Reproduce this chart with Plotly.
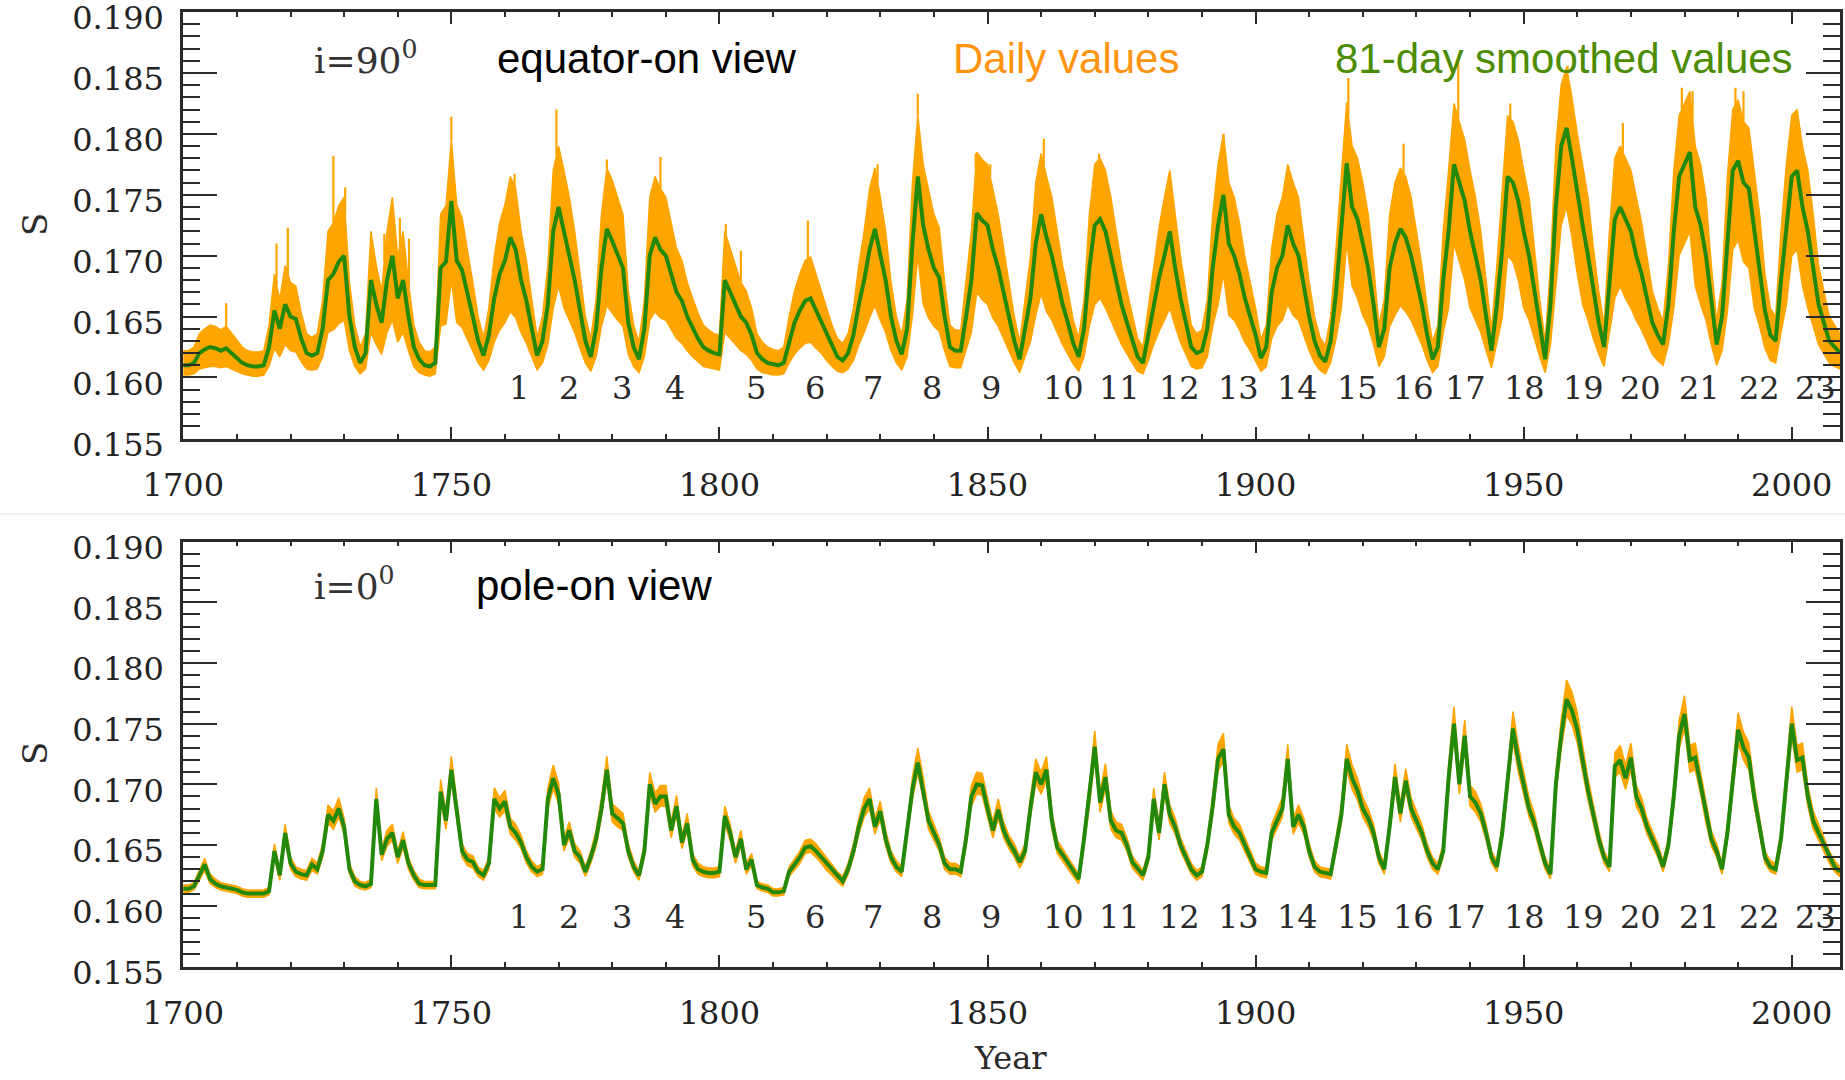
import numpy as np
import plotly.graph_objects as go

# ---------------------------------------------------------------------------
# Simulated S-index, yearly samples 1700-2009
# ---------------------------------------------------------------------------
years = list(range(1700, 2010))

# i = 90 deg (equator-on view): 81-day smoothed values
top_smooth = [
    0.1610, 0.1610, 0.1612, 0.1620, 0.1623, 0.1625, 0.1624, 0.1622, 0.1624, 0.1620,
    0.1616, 0.1612, 0.1610, 0.1609, 0.1609, 0.1610, 0.1625, 0.1655, 0.1640, 0.1660,
    0.1650, 0.1648, 0.1632, 0.1620, 0.1618, 0.1620, 0.1640, 0.1680, 0.1685, 0.1695,
    0.1700, 0.1650, 0.1625, 0.1612, 0.1620, 0.1680, 0.1660, 0.1645, 0.1680, 0.1700,
    0.1665, 0.1680, 0.1650, 0.1625, 0.1615, 0.1610, 0.1609, 0.1612, 0.1690, 0.1695,
    0.1745, 0.1696, 0.1688, 0.1670, 0.1650, 0.1630, 0.1618, 0.1635, 0.1665, 0.1685,
    0.1696, 0.1715, 0.1705, 0.1680, 0.1663, 0.1640, 0.1618, 0.1630, 0.1660, 0.1720,
    0.1740, 0.1720, 0.1700, 0.1680, 0.1655, 0.1630, 0.1617, 0.1640, 0.1690, 0.1722,
    0.1712, 0.1700, 0.1690, 0.1645, 0.1625, 0.1615, 0.1640, 0.1700, 0.1715, 0.1705,
    0.1700, 0.1685, 0.1670, 0.1663, 0.1650, 0.1641, 0.1632, 0.1625, 0.1622, 0.1620,
    0.1619, 0.1680, 0.1670, 0.1660, 0.1650, 0.1645, 0.1635, 0.1620, 0.1615, 0.1612,
    0.1611, 0.1610, 0.1612, 0.1630, 0.1645, 0.1655, 0.1663, 0.1665, 0.1655, 0.1646,
    0.1635, 0.1625, 0.1617, 0.1614, 0.1620, 0.1635, 0.1660, 0.1680, 0.1705, 0.1722,
    0.1700, 0.1680, 0.1650, 0.1630, 0.1619, 0.1640, 0.1710, 0.1765, 0.1725, 0.1705,
    0.1690, 0.1682, 0.1650, 0.1625, 0.1622, 0.1622, 0.1650, 0.1680, 0.1735, 0.1729,
    0.1725, 0.1705, 0.1690, 0.1670, 0.1650, 0.1630, 0.1615, 0.1640, 0.1665, 0.1710,
    0.1734, 0.1715, 0.1700, 0.1680, 0.1660, 0.1645, 0.1628, 0.1617, 0.1640, 0.1690,
    0.1725, 0.1730, 0.1720, 0.1700, 0.1680, 0.1660, 0.1645, 0.1630, 0.1617, 0.1612,
    0.1635, 0.1660, 0.1682, 0.1700, 0.1720, 0.1690, 0.1665, 0.1645, 0.1625, 0.1620,
    0.1622, 0.1640, 0.1690, 0.1725, 0.1750, 0.1710, 0.1700, 0.1685, 0.1665, 0.1650,
    0.1635, 0.1616, 0.1625, 0.1670, 0.1690, 0.1700, 0.1725, 0.1710, 0.1700, 0.1675,
    0.1650, 0.1630, 0.1618, 0.1613, 0.1630, 0.1670, 0.1720, 0.1776, 0.1740, 0.1730,
    0.1710, 0.1690, 0.1660, 0.1625, 0.1640, 0.1690, 0.1710, 0.1722, 0.1715, 0.1700,
    0.1680, 0.1660, 0.1635, 0.1615, 0.1625, 0.1680, 0.1720, 0.1775, 0.1760, 0.1745,
    0.1720, 0.1700, 0.1680, 0.1650, 0.1622, 0.1660, 0.1705, 0.1765, 0.1760, 0.1745,
    0.1720, 0.1700, 0.1670, 0.1640, 0.1615, 0.1660, 0.1740, 0.1790, 0.1805, 0.1780,
    0.1750, 0.1725, 0.1700, 0.1670, 0.1645, 0.1625, 0.1680, 0.1730, 0.1740, 0.1730,
    0.1720, 0.1700, 0.1685, 0.1665, 0.1645, 0.1635, 0.1627, 0.1660, 0.1720, 0.1765,
    0.1775, 0.1785, 0.1740, 0.1725, 0.1700, 0.1660, 0.1627, 0.1650, 0.1715, 0.1770,
    0.1778, 0.1760, 0.1755, 0.1720, 0.1690, 0.1655, 0.1635, 0.1630, 0.1680, 0.1725,
    0.1765, 0.1770, 0.1740, 0.1720, 0.1690, 0.1660, 0.1645, 0.1630, 0.1625, 0.1620,
]

# i = 90 deg: upper / lower edge of the daily-value scatter
top_daily_hi = [
    0.1622, 0.1622, 0.1625, 0.1636, 0.1640, 0.1643, 0.1642, 0.1639, 0.1642, 0.1636,
    0.1630, 0.1625, 0.1622, 0.1621, 0.1621, 0.1622, 0.1643, 0.1685, 0.1664, 0.1692,
    0.1678, 0.1675, 0.1653, 0.1636, 0.1633, 0.1636, 0.1664, 0.1720, 0.1727, 0.1741,
    0.1748, 0.1678, 0.1643, 0.1625, 0.1636, 0.1720, 0.1692, 0.1671, 0.1720, 0.1748,
    0.1699, 0.1720, 0.1678, 0.1643, 0.1629, 0.1622, 0.1621, 0.1625, 0.1734, 0.1741,
    0.1795, 0.1742, 0.1731, 0.1706, 0.1678, 0.1650, 0.1633, 0.1657, 0.1699, 0.1727,
    0.1742, 0.1765, 0.1755, 0.1720, 0.1696, 0.1664, 0.1633, 0.1650, 0.1692, 0.1770,
    0.1790, 0.1770, 0.1748, 0.1720, 0.1685, 0.1650, 0.1632, 0.1664, 0.1734, 0.1772,
    0.1762, 0.1748, 0.1734, 0.1671, 0.1643, 0.1629, 0.1664, 0.1748, 0.1765, 0.1755,
    0.1748, 0.1727, 0.1706, 0.1696, 0.1678, 0.1665, 0.1653, 0.1643, 0.1639, 0.1636,
    0.1635, 0.1720, 0.1706, 0.1692, 0.1678, 0.1671, 0.1657, 0.1636, 0.1629, 0.1625,
    0.1623, 0.1622, 0.1625, 0.1650, 0.1671, 0.1685, 0.1696, 0.1699, 0.1685, 0.1672,
    0.1657, 0.1643, 0.1632, 0.1628, 0.1636, 0.1657, 0.1692, 0.1720, 0.1755, 0.1772,
    0.1748, 0.1720, 0.1678, 0.1650, 0.1635, 0.1664, 0.1760, 0.1815, 0.1775, 0.1755,
    0.1734, 0.1723, 0.1678, 0.1643, 0.1639, 0.1639, 0.1678, 0.1720, 0.1785, 0.1779,
    0.1775, 0.1755, 0.1734, 0.1706, 0.1678, 0.1650, 0.1629, 0.1664, 0.1699, 0.1760,
    0.1784, 0.1765, 0.1748, 0.1720, 0.1692, 0.1671, 0.1647, 0.1632, 0.1664, 0.1734,
    0.1775, 0.1780, 0.1770, 0.1748, 0.1720, 0.1692, 0.1671, 0.1650, 0.1632, 0.1625,
    0.1657, 0.1692, 0.1723, 0.1748, 0.1770, 0.1734, 0.1699, 0.1671, 0.1643, 0.1636,
    0.1639, 0.1664, 0.1734, 0.1775, 0.1800, 0.1760, 0.1748, 0.1727, 0.1699, 0.1678,
    0.1657, 0.1631, 0.1643, 0.1706, 0.1734, 0.1748, 0.1775, 0.1760, 0.1748, 0.1713,
    0.1678, 0.1650, 0.1633, 0.1626, 0.1650, 0.1706, 0.1770, 0.1826, 0.1790, 0.1780,
    0.1760, 0.1734, 0.1692, 0.1643, 0.1664, 0.1734, 0.1760, 0.1772, 0.1765, 0.1748,
    0.1720, 0.1692, 0.1657, 0.1629, 0.1643, 0.1720, 0.1770, 0.1825, 0.1810, 0.1795,
    0.1770, 0.1748, 0.1720, 0.1678, 0.1639, 0.1692, 0.1755, 0.1815, 0.1810, 0.1795,
    0.1770, 0.1748, 0.1706, 0.1664, 0.1629, 0.1692, 0.1790, 0.1840, 0.1855, 0.1830,
    0.1800, 0.1775, 0.1748, 0.1706, 0.1671, 0.1643, 0.1720, 0.1780, 0.1790, 0.1780,
    0.1770, 0.1748, 0.1727, 0.1699, 0.1671, 0.1657, 0.1646, 0.1692, 0.1770, 0.1815,
    0.1825, 0.1835, 0.1790, 0.1775, 0.1748, 0.1692, 0.1646, 0.1678, 0.1765, 0.1820,
    0.1828, 0.1810, 0.1805, 0.1770, 0.1734, 0.1685, 0.1657, 0.1650, 0.1720, 0.1775,
    0.1815, 0.1820, 0.1790, 0.1770, 0.1734, 0.1692, 0.1671, 0.1650, 0.1643, 0.1636,
]

top_daily_lo = [
    0.1602, 0.1602, 0.1603, 0.1607, 0.1608, 0.1609, 0.1609, 0.1608, 0.1609, 0.1607,
    0.1605, 0.1603, 0.1602, 0.1601, 0.1601, 0.1602, 0.1609, 0.1624, 0.1617, 0.1627,
    0.1622, 0.1621, 0.1613, 0.1607, 0.1606, 0.1607, 0.1617, 0.1637, 0.1639, 0.1644,
    0.1647, 0.1622, 0.1609, 0.1603, 0.1607, 0.1637, 0.1627, 0.1619, 0.1637, 0.1647,
    0.1629, 0.1637, 0.1622, 0.1609, 0.1604, 0.1602, 0.1601, 0.1603, 0.1642, 0.1644,
    0.1680, 0.1645, 0.1641, 0.1632, 0.1622, 0.1612, 0.1606, 0.1614, 0.1629, 0.1639,
    0.1645, 0.1654, 0.1649, 0.1637, 0.1628, 0.1617, 0.1606, 0.1612, 0.1627, 0.1657,
    0.1675, 0.1657, 0.1647, 0.1637, 0.1624, 0.1612, 0.1605, 0.1617, 0.1642, 0.1659,
    0.1653, 0.1647, 0.1642, 0.1619, 0.1609, 0.1604, 0.1617, 0.1647, 0.1654, 0.1649,
    0.1647, 0.1639, 0.1632, 0.1628, 0.1622, 0.1617, 0.1613, 0.1609, 0.1608, 0.1607,
    0.1606, 0.1637, 0.1632, 0.1627, 0.1622, 0.1619, 0.1614, 0.1607, 0.1604, 0.1603,
    0.1602, 0.1602, 0.1603, 0.1612, 0.1619, 0.1624, 0.1628, 0.1629, 0.1624, 0.1620,
    0.1614, 0.1609, 0.1605, 0.1604, 0.1607, 0.1614, 0.1627, 0.1637, 0.1649, 0.1659,
    0.1647, 0.1637, 0.1622, 0.1612, 0.1606, 0.1617, 0.1651, 0.1700, 0.1660, 0.1649,
    0.1642, 0.1638, 0.1622, 0.1609, 0.1608, 0.1608, 0.1622, 0.1637, 0.1670, 0.1664,
    0.1660, 0.1649, 0.1642, 0.1632, 0.1622, 0.1612, 0.1604, 0.1617, 0.1629, 0.1651,
    0.1669, 0.1654, 0.1647, 0.1637, 0.1627, 0.1619, 0.1611, 0.1605, 0.1617, 0.1642,
    0.1660, 0.1665, 0.1657, 0.1647, 0.1637, 0.1627, 0.1619, 0.1612, 0.1605, 0.1603,
    0.1614, 0.1627, 0.1638, 0.1647, 0.1657, 0.1642, 0.1629, 0.1619, 0.1609, 0.1607,
    0.1608, 0.1617, 0.1642, 0.1660, 0.1685, 0.1651, 0.1647, 0.1639, 0.1629, 0.1622,
    0.1614, 0.1605, 0.1609, 0.1632, 0.1642, 0.1647, 0.1660, 0.1651, 0.1647, 0.1634,
    0.1622, 0.1612, 0.1606, 0.1603, 0.1612, 0.1632, 0.1657, 0.1711, 0.1675, 0.1665,
    0.1651, 0.1642, 0.1627, 0.1609, 0.1617, 0.1642, 0.1651, 0.1659, 0.1654, 0.1647,
    0.1637, 0.1627, 0.1614, 0.1604, 0.1609, 0.1637, 0.1657, 0.1710, 0.1695, 0.1680,
    0.1657, 0.1647, 0.1637, 0.1622, 0.1608, 0.1627, 0.1649, 0.1700, 0.1695, 0.1680,
    0.1657, 0.1647, 0.1632, 0.1617, 0.1604, 0.1627, 0.1675, 0.1725, 0.1740, 0.1715,
    0.1685, 0.1660, 0.1647, 0.1632, 0.1619, 0.1609, 0.1637, 0.1665, 0.1675, 0.1665,
    0.1657, 0.1647, 0.1639, 0.1629, 0.1619, 0.1614, 0.1610, 0.1627, 0.1657, 0.1700,
    0.1710, 0.1720, 0.1675, 0.1660, 0.1647, 0.1627, 0.1610, 0.1622, 0.1654, 0.1705,
    0.1713, 0.1695, 0.1690, 0.1657, 0.1642, 0.1624, 0.1614, 0.1612, 0.1637, 0.1660,
    0.1700, 0.1705, 0.1675, 0.1657, 0.1642, 0.1627, 0.1619, 0.1612, 0.1609, 0.1607,
]

# isolated daily excursions above the scatter (year, S)
top_spike_years = [
    1708.0, 1717.4, 1719.5, 1728.0, 1730.2, 1737.5, 1740.4, 1742.1, 1750.0, 1761.8,
    1769.6, 1779.0, 1789.0, 1801.2, 1804.0, 1816.5, 1829.5, 1837.0, 1847.8, 1850.5,
    1860.5, 1870.8, 1883.8, 1894.0, 1906.1, 1917.3, 1927.6, 1937.8, 1947.5, 1958.2,
    1968.5, 1979.5, 1981.5, 1989.5, 1991.0, 2000.9,
]
top_spike_peaks = [
    0.1661, 0.1710, 0.1723, 0.1782, 0.1756, 0.1718, 0.1731, 0.1714, 0.1814, 0.1767,
    0.1820, 0.1779, 0.1781, 0.1726, 0.1704, 0.1729, 0.1775, 0.1833, 0.1784, 0.1775,
    0.1796, 0.1784, 0.1765, 0.1788, 0.1767, 0.1846, 0.1792, 0.1861, 0.1825, 0.1856,
    0.1809, 0.1838, 0.1835, 0.1838, 0.1835, 0.1817,
]

# i = 0 deg (pole-on view): 81-day smoothed values
bot_smooth = [
    0.1614, 0.1614, 0.1616, 0.1625, 0.1634, 0.1622, 0.1618, 0.1616, 0.1615, 0.1614,
    0.1613, 0.1611, 0.1610, 0.1610, 0.1610, 0.1610, 0.1612, 0.1645, 0.1625, 0.1660,
    0.1635, 0.1628, 0.1626, 0.1625, 0.1634, 0.1630, 0.1645, 0.1675, 0.1670, 0.1680,
    0.1665, 0.1630, 0.1620, 0.1617, 0.1616, 0.1618, 0.1688, 0.1642, 0.1655, 0.1660,
    0.1640, 0.1654, 0.1635, 0.1625, 0.1618, 0.1617, 0.1617, 0.1617, 0.1694, 0.1670,
    0.1712, 0.1677, 0.1645, 0.1638, 0.1636, 0.1628, 0.1625, 0.1635, 0.1688, 0.1680,
    0.1686, 0.1665, 0.1660, 0.1652, 0.1640, 0.1632, 0.1628, 0.1630, 0.1688, 0.1705,
    0.1692, 0.1650, 0.1662, 0.1645, 0.1640, 0.1628, 0.1640, 0.1655, 0.1680, 0.1712,
    0.1676, 0.1672, 0.1668, 0.1645, 0.1632, 0.1625, 0.1645, 0.1700, 0.1684, 0.1690,
    0.1690, 0.1662, 0.1682, 0.1652, 0.1668, 0.1638, 0.1630, 0.1628, 0.1627, 0.1627,
    0.1628, 0.1674, 0.1660, 0.1640, 0.1655, 0.1630, 0.1638, 0.1617, 0.1615, 0.1614,
    0.1611, 0.1611, 0.1612, 0.1628, 0.1634, 0.1640, 0.1648, 0.1649, 0.1645, 0.1640,
    0.1634, 0.1629, 0.1624, 0.1620, 0.1630, 0.1645, 0.1665, 0.1680, 0.1688, 0.1665,
    0.1678, 0.1655, 0.1640, 0.1632, 0.1628, 0.1660, 0.1696, 0.1718, 0.1696, 0.1670,
    0.1660, 0.1650, 0.1635, 0.1630, 0.1630, 0.1628, 0.1655, 0.1690, 0.1700, 0.1699,
    0.1680, 0.1662, 0.1679, 0.1662, 0.1652, 0.1645, 0.1636, 0.1645, 0.1680, 0.1710,
    0.1700, 0.1712, 0.1670, 0.1648, 0.1642, 0.1635, 0.1628, 0.1622, 0.1655, 0.1690,
    0.1731, 0.1685, 0.1706, 0.1670, 0.1662, 0.1660, 0.1650, 0.1636, 0.1630, 0.1625,
    0.1640, 0.1688, 0.1660, 0.1700, 0.1675, 0.1665, 0.1650, 0.1640, 0.1630, 0.1625,
    0.1628, 0.1650, 0.1682, 0.1721, 0.1729, 0.1675, 0.1665, 0.1660, 0.1650, 0.1640,
    0.1630, 0.1628, 0.1627, 0.1660, 0.1670, 0.1680, 0.1721, 0.1665, 0.1675, 0.1665,
    0.1645, 0.1632, 0.1628, 0.1627, 0.1626, 0.1650, 0.1675, 0.1721, 0.1705, 0.1695,
    0.1680, 0.1672, 0.1660, 0.1640, 0.1630, 0.1665, 0.1706, 0.1676, 0.1703, 0.1680,
    0.1670, 0.1660, 0.1645, 0.1635, 0.1630, 0.1645, 0.1705, 0.1750, 0.1700, 0.1740,
    0.1690, 0.1685, 0.1676, 0.1660, 0.1640, 0.1632, 0.1660, 0.1700, 0.1746, 0.1720,
    0.1700, 0.1680, 0.1668, 0.1650, 0.1635, 0.1626, 0.1700, 0.1740, 0.1770, 0.1761,
    0.1745, 0.1720, 0.1695, 0.1675, 0.1655, 0.1640, 0.1632, 0.1715, 0.1720, 0.1705,
    0.1722, 0.1690, 0.1680, 0.1665, 0.1655, 0.1645, 0.1632, 0.1650, 0.1690, 0.1740,
    0.1758, 0.1720, 0.1722, 0.1700, 0.1675, 0.1655, 0.1645, 0.1630, 0.1660, 0.1700,
    0.1745, 0.1730, 0.1722, 0.1690, 0.1665, 0.1640, 0.1632, 0.1630, 0.1655, 0.1700,
    0.1750, 0.1720, 0.1722, 0.1690, 0.1670, 0.1660, 0.1650, 0.1640, 0.1632, 0.1628,
]

bot_daily_hi = [
    0.1617, 0.1617, 0.1619, 0.1629, 0.1639, 0.1626, 0.1622, 0.1619, 0.1618, 0.1617,
    0.1616, 0.1614, 0.1613, 0.1613, 0.1613, 0.1613, 0.1615, 0.1651, 0.1629, 0.1667,
    0.1640, 0.1632, 0.1630, 0.1629, 0.1639, 0.1635, 0.1651, 0.1683, 0.1678, 0.1689,
    0.1672, 0.1635, 0.1624, 0.1620, 0.1619, 0.1622, 0.1697, 0.1647, 0.1662, 0.1667,
    0.1645, 0.1661, 0.1640, 0.1629, 0.1622, 0.1620, 0.1620, 0.1620, 0.1704, 0.1678,
    0.1723, 0.1685, 0.1651, 0.1643, 0.1641, 0.1632, 0.1629, 0.1640, 0.1697, 0.1689,
    0.1695, 0.1672, 0.1667, 0.1658, 0.1645, 0.1637, 0.1632, 0.1635, 0.1697, 0.1716,
    0.1701, 0.1656, 0.1669, 0.1651, 0.1645, 0.1632, 0.1645, 0.1662, 0.1689, 0.1723,
    0.1684, 0.1680, 0.1676, 0.1651, 0.1637, 0.1629, 0.1651, 0.1710, 0.1693, 0.1699,
    0.1699, 0.1669, 0.1691, 0.1658, 0.1676, 0.1643, 0.1635, 0.1632, 0.1631, 0.1631,
    0.1632, 0.1682, 0.1667, 0.1645, 0.1662, 0.1635, 0.1643, 0.1620, 0.1618, 0.1617,
    0.1614, 0.1614, 0.1615, 0.1632, 0.1639, 0.1645, 0.1654, 0.1655, 0.1651, 0.1645,
    0.1639, 0.1633, 0.1628, 0.1624, 0.1635, 0.1651, 0.1672, 0.1689, 0.1697, 0.1672,
    0.1686, 0.1662, 0.1645, 0.1637, 0.1632, 0.1667, 0.1706, 0.1730, 0.1706, 0.1678,
    0.1667, 0.1656, 0.1640, 0.1635, 0.1635, 0.1632, 0.1662, 0.1699, 0.1710, 0.1709,
    0.1689, 0.1669, 0.1688, 0.1669, 0.1658, 0.1651, 0.1641, 0.1651, 0.1689, 0.1721,
    0.1710, 0.1723, 0.1678, 0.1654, 0.1647, 0.1640, 0.1632, 0.1626, 0.1662, 0.1699,
    0.1744, 0.1694, 0.1717, 0.1678, 0.1669, 0.1667, 0.1656, 0.1641, 0.1635, 0.1629,
    0.1645, 0.1697, 0.1667, 0.1710, 0.1683, 0.1672, 0.1656, 0.1645, 0.1635, 0.1629,
    0.1632, 0.1656, 0.1691, 0.1733, 0.1742, 0.1683, 0.1672, 0.1667, 0.1656, 0.1645,
    0.1635, 0.1632, 0.1631, 0.1667, 0.1678, 0.1689, 0.1733, 0.1672, 0.1683, 0.1672,
    0.1651, 0.1637, 0.1632, 0.1631, 0.1630, 0.1656, 0.1683, 0.1733, 0.1716, 0.1705,
    0.1689, 0.1680, 0.1667, 0.1645, 0.1635, 0.1672, 0.1717, 0.1684, 0.1713, 0.1689,
    0.1678, 0.1667, 0.1651, 0.1640, 0.1635, 0.1651, 0.1716, 0.1764, 0.1710, 0.1753,
    0.1699, 0.1694, 0.1684, 0.1667, 0.1645, 0.1637, 0.1667, 0.1710, 0.1760, 0.1732,
    0.1710, 0.1689, 0.1676, 0.1656, 0.1640, 0.1630, 0.1710, 0.1753, 0.1786, 0.1776,
    0.1759, 0.1732, 0.1705, 0.1683, 0.1662, 0.1645, 0.1637, 0.1726, 0.1732, 0.1716,
    0.1734, 0.1699, 0.1689, 0.1672, 0.1662, 0.1651, 0.1637, 0.1656, 0.1699, 0.1753,
    0.1773, 0.1732, 0.1734, 0.1710, 0.1683, 0.1662, 0.1651, 0.1635, 0.1667, 0.1710,
    0.1759, 0.1743, 0.1734, 0.1699, 0.1672, 0.1645, 0.1637, 0.1635, 0.1662, 0.1710,
    0.1764, 0.1732, 0.1734, 0.1699, 0.1678, 0.1667, 0.1656, 0.1645, 0.1637, 0.1632,
]

bot_daily_lo = [
    0.1611, 0.1611, 0.1613, 0.1621, 0.1629, 0.1618, 0.1615, 0.1613, 0.1612, 0.1611,
    0.1610, 0.1608, 0.1607, 0.1607, 0.1607, 0.1607, 0.1609, 0.1640, 0.1621, 0.1654,
    0.1630, 0.1624, 0.1622, 0.1621, 0.1629, 0.1626, 0.1640, 0.1668, 0.1663, 0.1673,
    0.1659, 0.1626, 0.1616, 0.1614, 0.1613, 0.1615, 0.1680, 0.1637, 0.1649, 0.1654,
    0.1635, 0.1648, 0.1630, 0.1621, 0.1615, 0.1614, 0.1614, 0.1614, 0.1686, 0.1663,
    0.1703, 0.1670, 0.1640, 0.1633, 0.1631, 0.1624, 0.1621, 0.1630, 0.1680, 0.1673,
    0.1678, 0.1659, 0.1654, 0.1647, 0.1635, 0.1628, 0.1624, 0.1626, 0.1680, 0.1696,
    0.1684, 0.1645, 0.1656, 0.1640, 0.1635, 0.1624, 0.1635, 0.1649, 0.1673, 0.1703,
    0.1669, 0.1665, 0.1662, 0.1640, 0.1628, 0.1621, 0.1640, 0.1692, 0.1677, 0.1682,
    0.1682, 0.1656, 0.1675, 0.1647, 0.1662, 0.1633, 0.1626, 0.1624, 0.1623, 0.1623,
    0.1624, 0.1667, 0.1654, 0.1635, 0.1649, 0.1626, 0.1633, 0.1614, 0.1612, 0.1611,
    0.1608, 0.1608, 0.1609, 0.1624, 0.1629, 0.1635, 0.1643, 0.1644, 0.1640, 0.1635,
    0.1629, 0.1625, 0.1620, 0.1616, 0.1626, 0.1640, 0.1659, 0.1673, 0.1680, 0.1659,
    0.1671, 0.1649, 0.1635, 0.1628, 0.1624, 0.1654, 0.1688, 0.1709, 0.1688, 0.1663,
    0.1654, 0.1645, 0.1630, 0.1626, 0.1626, 0.1624, 0.1649, 0.1682, 0.1692, 0.1691,
    0.1673, 0.1656, 0.1672, 0.1656, 0.1647, 0.1640, 0.1631, 0.1640, 0.1673, 0.1701,
    0.1692, 0.1703, 0.1663, 0.1643, 0.1637, 0.1630, 0.1624, 0.1618, 0.1649, 0.1682,
    0.1721, 0.1677, 0.1697, 0.1663, 0.1656, 0.1654, 0.1645, 0.1631, 0.1626, 0.1621,
    0.1635, 0.1680, 0.1654, 0.1692, 0.1668, 0.1659, 0.1645, 0.1635, 0.1626, 0.1621,
    0.1624, 0.1645, 0.1675, 0.1711, 0.1719, 0.1668, 0.1659, 0.1654, 0.1645, 0.1635,
    0.1626, 0.1624, 0.1623, 0.1654, 0.1663, 0.1673, 0.1711, 0.1659, 0.1668, 0.1659,
    0.1640, 0.1628, 0.1624, 0.1623, 0.1622, 0.1645, 0.1668, 0.1711, 0.1696, 0.1687,
    0.1673, 0.1665, 0.1654, 0.1635, 0.1626, 0.1659, 0.1697, 0.1669, 0.1695, 0.1673,
    0.1663, 0.1654, 0.1640, 0.1630, 0.1626, 0.1640, 0.1696, 0.1739, 0.1692, 0.1729,
    0.1682, 0.1677, 0.1669, 0.1654, 0.1635, 0.1628, 0.1654, 0.1692, 0.1735, 0.1710,
    0.1692, 0.1673, 0.1662, 0.1645, 0.1630, 0.1622, 0.1692, 0.1729, 0.1757, 0.1749,
    0.1734, 0.1710, 0.1687, 0.1668, 0.1649, 0.1635, 0.1628, 0.1706, 0.1710, 0.1696,
    0.1712, 0.1682, 0.1673, 0.1659, 0.1649, 0.1640, 0.1628, 0.1645, 0.1682, 0.1729,
    0.1746, 0.1710, 0.1712, 0.1692, 0.1668, 0.1649, 0.1640, 0.1626, 0.1654, 0.1692,
    0.1734, 0.1720, 0.1712, 0.1682, 0.1659, 0.1635, 0.1628, 0.1626, 0.1649, 0.1692,
    0.1739, 0.1710, 0.1712, 0.1682, 0.1663, 0.1654, 0.1645, 0.1635, 0.1628, 0.1624,
]

# solar cycle numbering placed under each cycle
cycle_labels = [str(n) for n in range(1, 24)]
cycle_years = [
    1762.6, 1772.0, 1781.8, 1791.7, 1806.8, 1817.8, 1828.7, 1839.7, 1850.6, 1864.2,
    1874.7, 1885.9, 1896.9, 1907.8, 1919.0, 1929.5, 1939.2, 1950.1, 1961.1, 1971.8,
    1982.8, 1993.9, 2004.4,
]
cycle_label_level = 0.1591

# ---------------------------------------------------------------------------
ORANGE = "#FFA500"
GREEN = "#22890C"
AXIS = "#2a2a2a"
SERIF = "DejaVu Serif"
SANS = "Liberation Sans, Arial, sans-serif"

fig = go.Figure()


def add_panel(xref, yref, hi, lo, smooth, spike_x=None, spike_y=None):
    # daily-value scatter drawn as a filled band
    fig.add_trace(go.Scatter(
        x=years + years[::-1], y=hi + lo[::-1], mode="lines",
        fill="toself", fillcolor=ORANGE, line=dict(color=ORANGE, width=1.5),
        xaxis=xref, yaxis=yref, hoverinfo="skip", showlegend=False))
    if spike_x:
        base = np.interp(spike_x, years, hi)
        sx, sy = [], []
        for x, b, t in zip(spike_x, base, spike_y):
            sx += [x, x, None]
            sy += [float(b), t, None]
        fig.add_trace(go.Scatter(
            x=sx, y=sy, mode="lines", line=dict(color=ORANGE, width=2.2),
            xaxis=xref, yaxis=yref, hoverinfo="skip", showlegend=False))
    fig.add_trace(go.Scatter(
        x=years, y=smooth, mode="lines", line=dict(color=GREEN, width=4),
        xaxis=xref, yaxis=yref, hoverinfo="skip", showlegend=False))


add_panel("x", "y", top_daily_hi, top_daily_lo, top_smooth,
          top_spike_years, top_spike_peaks)
add_panel("x2", "y2", bot_daily_hi, bot_daily_lo, bot_smooth)

base_axis = dict(
    showline=True, linewidth=2.5, linecolor=AXIS, mirror="allticks",
    ticks="inside", tickcolor=AXIS, tickwidth=2,
    showgrid=False, zeroline=False, automargin=False,
    tickfont=dict(family=SERIF, size=32, color="#222222"),
)
x_axis = dict(
    base_axis, range=[1699.95, 2009.0], tick0=1700, dtick=50, ticklen=12,
    minor=dict(tick0=1700, dtick=10, ticklen=5, tickwidth=2,
               tickcolor=AXIS, ticks="inside"),
    ticklabelstandoff=16,
)
y_axis = dict(
    base_axis, range=[0.15499, 0.19001], tick0=0.155, dtick=0.005,
    tickformat=".3f", ticklen=34,
    minor=dict(tick0=0.155, dtick=0.001, ticklen=17, tickwidth=2,
               tickcolor=AXIS, ticks="inside"),
    ticklabelstandoff=10, ticklabelshift=6, ticklabeloverflow="allow",
)

XDOM = [183 / 1845, 1840 / 1845]
fig.update_layout(
    width=1845, height=1080,
    margin=dict(l=0, r=0, t=0, b=0),
    paper_bgcolor="white", plot_bgcolor="white",
    hovermode=False, showlegend=False,
    xaxis=dict(x_axis, domain=XDOM, anchor="y"),
    yaxis=dict(y_axis, domain=[1 - 438.5 / 1080, 1 - 12 / 1080], anchor="x"),
    xaxis2=dict(x_axis, domain=XDOM, anchor="y2"),
    yaxis2=dict(y_axis, domain=[1 - 966.5 / 1080, 1 - 541.5 / 1080], anchor="x2"),
)

notes = []
# cycle numbers in both panels
for xr, yr in (("x", "y"), ("x2", "y2")):
    for lab, yrs in zip(cycle_labels, cycle_years):
        notes.append(dict(
            x=yrs, y=cycle_label_level, xref=xr, yref=yr, text=lab,
            showarrow=False, xanchor="center", yanchor="middle",
            font=dict(family=SERIF, size=32, color="#2a2a2a")))


# panel headings
def paper_text(x, y, text, family, size, color, anchor="left", angle=0):
    notes.append(dict(
        x=x, y=y, xref="paper", yref="paper", text=text, showarrow=False,
        xanchor=anchor, yanchor="middle", textangle=angle,
        font=dict(family=family, size=size, color=color)))


paper_text(312 / 1845, 1 - 58 / 1080, "i=90<sup>0</sup>", SERIF, 36, "#333333")
paper_text(495 / 1845, 1 - 59 / 1080, "equator-on view", SANS, 42, "#000000")
paper_text(951 / 1845, 1 - 59 / 1080, "Daily values", SANS, 42, "#FF9410")
paper_text(1333 / 1845, 1 - 59 / 1080, "81-day smoothed values", SANS, 42, "#4C8C00")
paper_text(312 / 1845, 1 - 584 / 1080, "i=0<sup>0</sup>", SERIF, 36, "#333333")
paper_text(474 / 1845, 1 - 585 / 1080, "pole-on view", SANS, 42, "#000000")
paper_text(35 / 1845, 1 - 225 / 1080, "S", SERIF, 34, "#2a2a2a", "center", -90)
paper_text(35 / 1845, 1 - 754 / 1080, "S", SERIF, 34, "#2a2a2a", "center", -90)
paper_text(1010 / 1845, 1 - 1058 / 1080, "Year", SERIF, 32, "#2a2a2a", "center")

fig.update_layout(annotations=notes)

# faint seam between the two panels
fig.add_shape(type="line", xref="paper", yref="paper", x0=0, x1=1,
              y0=1 - 514 / 1080, y1=1 - 514 / 1080,
              line=dict(color="#e4e4e4", width=1))

fig.write_html("out.html")
